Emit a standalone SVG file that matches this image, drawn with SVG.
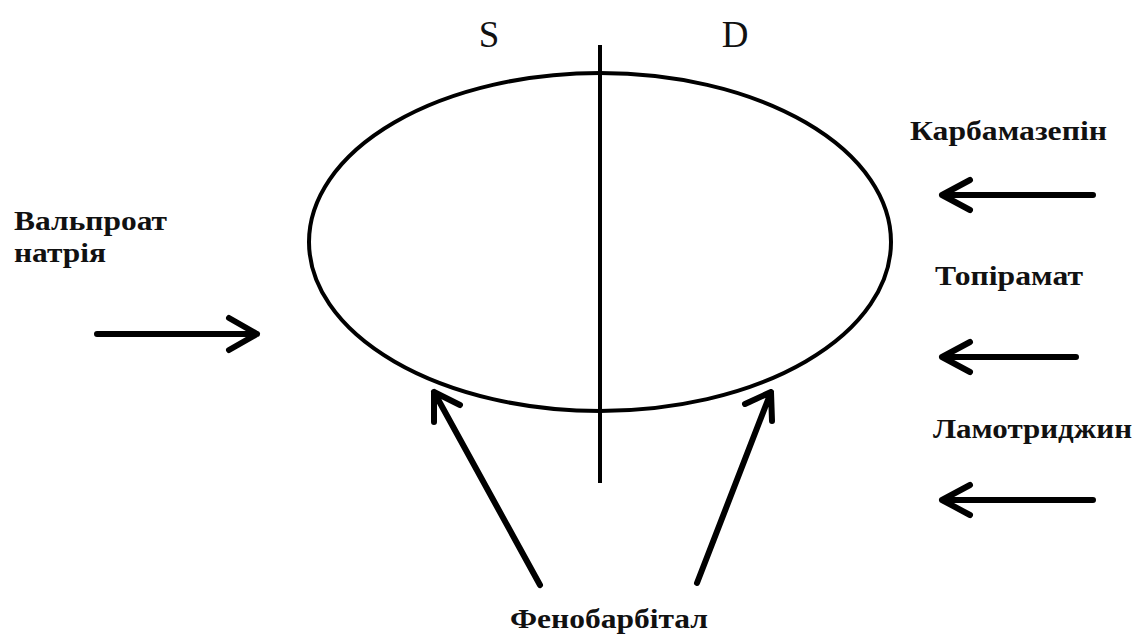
<svg xmlns="http://www.w3.org/2000/svg" width="1140" height="637" viewBox="0 0 1140 637">
<style>
.lbl{font-family:"Liberation Serif","Times New Roman",serif;font-weight:bold;font-size:27px;fill:#111}
.big{font-family:"Liberation Serif","Times New Roman",serif;font-size:37px;fill:#111}
.ln{fill:none;stroke:#000;stroke-width:4}
.arr{fill:none;stroke:#000;stroke-width:6;stroke-linecap:round;stroke-linejoin:round}
</style>
<rect width="1140" height="637" fill="#fff"/>
<g id="cell">
<ellipse class="ln" cx="600" cy="242" rx="291" ry="169"/>
<line class="ln" x1="600" y1="45" x2="600" y2="483"/>
</g>
<g id="S"><text class="big" x="489" y="47" text-anchor="middle">S</text></g>
<g id="D"><text class="big" x="735" y="47" text-anchor="middle">D</text></g>
<g id="valproate"><text class="lbl" x="14" y="230" textLength="153" lengthAdjust="spacingAndGlyphs">Вальпроат</text><text class="lbl" x="14" y="262" textLength="92" lengthAdjust="spacingAndGlyphs">натрія</text></g>
<g id="carbamazepine"><text class="lbl" x="910" y="140" textLength="197" lengthAdjust="spacingAndGlyphs">Карбамазепін</text></g>
<g id="topiramate"><text class="lbl" x="935" y="285" textLength="148" lengthAdjust="spacingAndGlyphs">Топірамат</text></g>
<g id="lamotrigine"><text class="lbl" x="933" y="438" textLength="199" lengthAdjust="spacingAndGlyphs">Ламотриджин</text></g>
<g id="phenobarbital"><text class="lbl" x="510" y="628" textLength="198" lengthAdjust="spacingAndGlyphs">Фенобарбітал</text></g>
<g id="connectors">
<path class="arr" d="M97 334H257M229 318L257 334L229 350"/>
<path class="arr" d="M1093 195H942M970 180L942 195L970 210"/>
<path class="arr" d="M1076 357H942M970 342L942 357L970 372"/>
<path class="arr" d="M1093 500H942M970 485L942 500L970 515"/>
<path class="arr" d="M540 585L434 392M434 422L434 392L460 405"/>
<path class="arr" d="M697 583L771 392M745 404L771 392L772 421"/>
</g>
</svg>
